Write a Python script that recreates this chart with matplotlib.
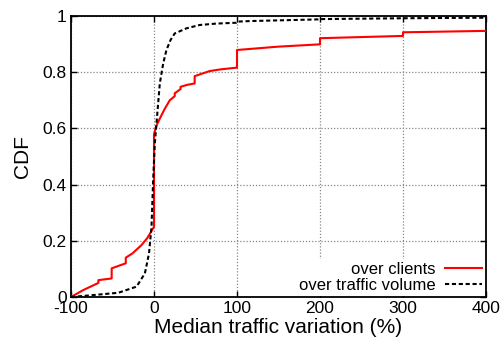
import matplotlib
matplotlib.use('Agg')
import matplotlib.pyplot as plt

plt.rcParams['font.family'] = ['Liberation Sans', 'DejaVu Sans']
plt.rcParams['axes.unicode_minus'] = False

# CDF over clients (red, step-like)
clients_x = [-100, -85, -67, -67, -51, -51, -34, -34, -26, -15, -8, -1, 0, 0,
             3, 7, 13, 19, 25, 25, 32, 32, 40, 49, 49, 58, 67, 80, 99, 100, 100,
             150, 199, 200, 200, 299, 300, 300, 400]
clients_y = [0.0, 0.025, 0.05, 0.06, 0.066, 0.102, 0.12, 0.14, 0.155, 0.185, 0.21, 0.245, 0.25, 0.58,
             0.61, 0.635, 0.67, 0.70, 0.715, 0.725, 0.74, 0.748, 0.755, 0.76, 0.786, 0.795, 0.804, 0.81, 0.816, 0.816, 0.879,
             0.891, 0.899, 0.899, 0.921, 0.929, 0.929, 0.942, 0.947]

# CDF over traffic volume (black dashed)
volume_x = [-100, -73, -43, -21, -11, -6, -3, -1, 1, 3, 7, 11, 15, 20, 25, 39, 55, 75, 99, 100,
            116, 199, 200, 300, 400]
volume_y = [0.0, 0.007, 0.015, 0.037, 0.084, 0.155, 0.25, 0.416, 0.547, 0.618, 0.76, 0.83, 0.879, 0.915, 0.938, 0.956, 0.968, 0.973, 0.976, 0.98,
            0.982, 0.988, 0.989, 0.992, 0.994]

xticks = [-100, 0, 100, 200, 300, 400]
yticks = [0, 0.2, 0.4, 0.6, 0.8, 1]
ytick_labels = ['0', '0.2', '0.4', '0.6', '0.8', '1']

fig = plt.figure(figsize=(5.03, 3.41), dpi=100)
ax = fig.add_axes([71 / 503, 44 / 341, 415 / 503, 281 / 341])

ax.plot(clients_x, clients_y, color='red', lw=1.5, label='over clients', zorder=3)
ax.plot(volume_x, volume_y, color='black', lw=1.5, ls=(0, (2, 1.3)),
        label='over traffic volume', zorder=3)

ax.set_xlim(-100, 400)
ax.set_ylim(0, 1)
ax.set_xticks(xticks)
ax.set_yticks(yticks)
ax.set_yticklabels(ytick_labels)
ax.tick_params(direction='in', top=True, right=True, length=4, width=1,
               labelsize=12.5, pad=3)
ax.grid(True, color='#888888', ls=(0, (1, 1.5)), lw=0.9)
for s in ax.spines.values():
    s.set_linewidth(1.3)

ax.set_xlabel('Median traffic variation (%)', fontsize=15, labelpad=1)
ax.set_ylabel('CDF', fontsize=15, labelpad=8)

leg = ax.legend(loc='lower right', markerfirst=False, frameon=True, fontsize=12,
                handlelength=2.2, handletextpad=0.6, labelspacing=0.05,
                borderpad=0.2, borderaxespad=0.05, fancybox=False)
leg.get_frame().set_edgecolor('none')
leg.get_frame().set_facecolor('white')
leg.get_frame().set_alpha(1)
for t in leg.get_texts():
    t.set_ha('right')
leg.set_zorder(5)

fig.savefig('out.png', dpi=100)
